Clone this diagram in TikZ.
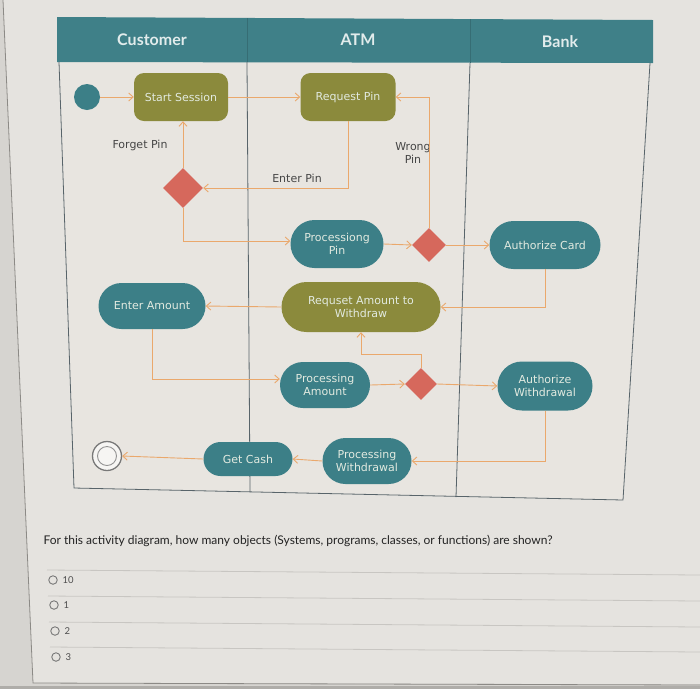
\documentclass[tikz,border=0pt]{standalone}
\usepackage{fontspec}
\setmainfont{DejaVu Sans}
\newfontfamily\latof{Lato}
\usetikzlibrary{shapes.geometric,shapes.misc,arrows.meta}
\definecolor{bgc}{RGB}{214,212,208}
\definecolor{cardc}{RGB}{229,227,223}
\definecolor{bodyc}{RGB}{232,229,224}
\definecolor{cardline}{RGB}{140,138,134}
\definecolor{bottomc}{RGB}{175,173,169}
\definecolor{tealc}{RGB}{60,127,135}
\definecolor{headc}{RGB}{63,128,136}
\definecolor{olivec}{RGB}{139,138,60}
\definecolor{diac}{RGB}{214,104,92}
\definecolor{arrowc}{RGB}{234,168,108}
\definecolor{framec}{RGB}{88,100,106}
\definecolor{nodetxt}{RGB}{226,234,224}
\definecolor{headtxt}{RGB}{226,236,236}
\definecolor{labtxt}{RGB}{70,70,70}
\definecolor{qtxt}{RGB}{35,35,35}
\definecolor{rulec}{RGB}{200,198,194}
\definecolor{radioc}{RGB}{120,120,120}
\tikzset{
  nodefont/.style={font=\fontsize{11}{13}\selectfont, text=nodetxt, align=center},
  pill/.style={rounded rectangle, fill=tealc, inner sep=0pt, nodefont},
  olivebox/.style={rectangle, rounded corners=10pt, fill=olivec, inner sep=0pt, nodefont},
  olivepill/.style={rounded rectangle, fill=olivec, inner sep=0pt, nodefont},
  decision/.style={diamond, fill=diac, inner sep=0pt, aspect=1},
  conn/.style={draw=arrowc, line width=0.9pt, -{Straight Barb[length=4.5pt,width=8pt]}},
  lab/.style={font=\fontsize{11}{13}\selectfont, text=labtxt, align=center},
  lanehead/.style={font=\latof\bfseries\fontsize{16}{19}\selectfont, text=headtxt},
  frame/.style={draw=framec, line width=0.8pt},
  rulel/.style={draw=rulec, line width=0.8pt},
  radio/.style={circle, draw=radioc, line width=0.9pt, minimum size=8.5pt, inner sep=0pt},
  opt/.style={font=\latof\fontsize{9.5}{11}\selectfont, text=qtxt!80, anchor=west}
}
\begin{document}
\begin{tikzpicture}[x=1pt,y=-1pt]
\useasboundingbox (0,0) rectangle (700,689);
% page background and card
\fill[bgc] (0,0) rectangle (700,689);
\fill[cardc] (3,0) -- (700,0) -- (700,684) -- (33,683) -- cycle;
\draw[cardline, line width=0.8pt] (3,0) -- (33,683) -- (700,685);
\fill[bottomc] (0,685.5) rectangle (700,689);

% swimlane frame
\fill[bodyc] (59,62) -- (650,63) -- (623,500) -- (74,488) -- cycle;
\fill[headc] (57,17) -- (653,20) -- (653,63) -- (57,62) -- cycle;
\draw[frame] (59,62) -- (74,488) -- (623,500) -- (650,63);
\draw[frame] (247,62) -- (250,492);
\draw[frame] (470,63) -- (456,497);
\draw[headc!85!black, line width=0.5pt] (247,18) -- (247,62);
\draw[headc!85!black, line width=0.5pt] (470,19) -- (470,63);
\node[lanehead] (hcust) at (152,40) {Customer};
\node[lanehead] (hatm) at (358,40) {ATM};
\node[lanehead] (hbank) at (560,42) {Bank};

% nodes
\node[circle, fill=tealc, minimum size=26pt, inner sep=0pt] (init) at (87,97) {};
\node[olivebox, minimum width=94pt, minimum height=48pt] (ss) at (181,97) {Start Session};
\node[olivebox, minimum width=95pt, minimum height=48pt] (rp) at (348,97) {Request Pin};
\node[decision, minimum size=40pt] (d1) at (183,188) {};
\node[pill, minimum width=93pt, minimum height=48pt] (pp) at (337,244) {Processiong\\Pin};
\node[decision, minimum size=34pt] (d2) at (429,245) {};
\node[pill, minimum width=111pt, minimum height=48pt] (ac) at (545,245) {Authorize Card};
\node[pill, minimum width=107pt, minimum height=46pt] (ea) at (152,306) {Enter Amount};
\node[olivepill, minimum width=159pt, minimum height=50pt] (ra) at (361,307) {Requset Amount to\\Withdraw};
\node[pill, minimum width=90pt, minimum height=46pt] (pa) at (325,385) {Processing\\Amount};
\node[decision, minimum size=32pt] (d3) at (421,384) {};
\node[pill, minimum width=95pt, minimum height=49pt] (aw) at (545,386) {Authorize\\Withdrawal};
\node[pill, minimum width=89pt, minimum height=34pt] (gc) at (248,459) {Get Cash};
\node[pill, minimum width=89pt, minimum height=46pt] (pw) at (367,461) {Processing\\Withdrawal};
\node[circle, draw=radioc, line width=1.3pt, fill=white!60!bodyc, minimum size=29pt, inner sep=0pt] (fin) at (107,456) {};
\node[circle, draw=radioc!80, line width=0.9pt, minimum size=19pt, inner sep=0pt] (finin) at (fin) {};

% labels
\node[lab] (lforget) at (140,145) {Forget Pin};
\node[lab] (lenter) at (297,178) {Enter Pin};
\node[lab] (lwrong) at (413,153) {Wrong\\Pin};

% connectors
\draw[conn] (init) -- (ss.west);
\draw[conn] (ss.east) -- (rp.west);
\draw[conn] (rp.south) |- (d1.east);
\draw[conn] (d1.north) -- (d1.north |- ss.south);
\draw[conn] (d1.south) |- ([yshift=3pt]pp.west);
\draw[conn] (pp.east) -- (d2.west);
\draw[conn] (d2.north) |- (rp.east);
\draw[conn] (d2.east) -- (ac.west);
\draw[conn] (ac.south) |- (ra.east);
\draw[conn] (ra.west) -- (ea.east);
\draw[conn] (ea.south) |- ([yshift=6pt]pa.west);
\draw[conn] (pa.east) -- (d3.west);
\draw[conn] (d3.north) -- ++(0,-13) -| (ra.south);
\draw[conn] (d3.east) -- (aw.west);
\draw[conn] (aw.south) |- (pw.east);
\draw[conn] (pw.west) -- (gc.east);
\draw[conn] (gc.west) -- (fin.east);

% question
\node[font=\latof\fontsize{12}{14}\selectfont, text=qtxt, anchor=west] (q) at (40,541) {For this activity diagram, how many objects (Systems, programs, classes, or functions) are shown?};
\coordinate (r1a) at (47,570); \coordinate (r1b) at (700,575);
\coordinate (r2a) at (48,596); \coordinate (r2b) at (700,601);
\coordinate (r3a) at (49,622); \coordinate (r3b) at (700,627);
\coordinate (r4a) at (50,647); \coordinate (r4b) at (700,652);
\draw[rulel] (r1a) -- (r1b);
\draw[rulel] (r2a) -- (r2b);
\draw[rulel] (r3a) -- (r3b);
\draw[rulel] (r4a) -- (r4b);
\node[radio] (o1) at (53,580) {};
\node[opt] (t1) at (59,580) {10};
\node[radio] (o2) at (54,605) {};
\node[opt] (t2) at (60,605) {1};
\node[radio] (o3) at (55,631) {};
\node[opt] (t3) at (61,631) {2};
\node[radio] (o4) at (56,657) {};
\node[opt] (t4) at (62,657) {3};
\end{tikzpicture}
\end{document}
